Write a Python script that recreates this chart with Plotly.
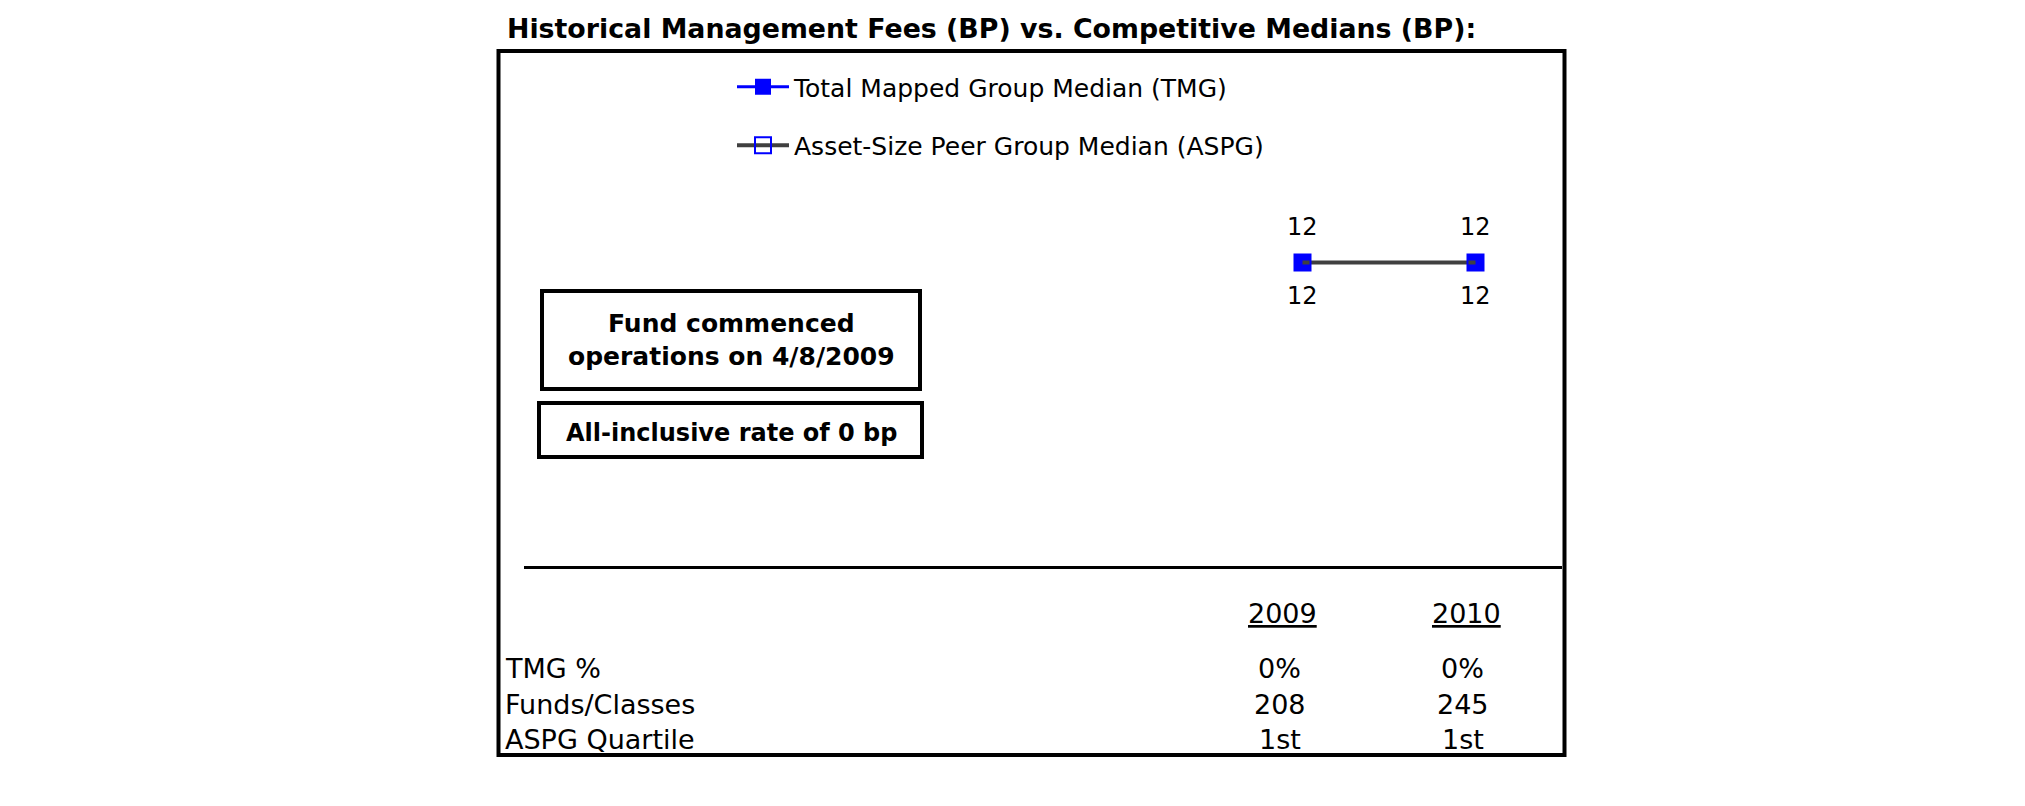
import plotly.graph_objects as go

# ---- data ----
years = [2009, 2010]
tmg_median = [12, 12]
aspg_median = [12, 12]
series_names = ["Total Mapped Group Median (TMG)", "Asset-Size Peer Group Median (ASPG)"]
row_labels = ["TMG %", "Funds/Classes", "ASPG Quartile"]
tmg_pct = ["0%", "0%"]
funds_classes = ["208", "245"]
aspg_quartile = ["1st", "1st"]
title_text = "Historical Management Fees (BP) vs. Competitive Medians (BP):"
note1 = "Fund commenced<br>operations on 4/8/2009"
note2 = "All-inclusive rate of 0 bp"

W, H = 2025, 806
OFF = 8  # page body margin
FONT = "DejaVu Sans"


def px(x):
    return (x - OFF) / W


def py(y):
    return 1 - (y - OFF) / H


fig = go.Figure()
fig.add_trace(go.Scatter(
    x=years, y=tmg_median, name=series_names[0], legendgroup="a",
    mode="lines+markers",
    line=dict(color="#0000FF", width=3),
    marker=dict(symbol="square", size=16, color="#0000FF"),
    cliponaxis=False,
))
fig.add_trace(go.Scatter(
    x=years, y=aspg_median, name=series_names[1], legendgroup="b",
    mode="lines+markers",
    line=dict(color="#404040", width=4),
    marker=dict(symbol="square-open", size=16, color="#0000FF", line=dict(width=2, color="#0000FF")),
    cliponaxis=False,
))

shapes = [
    dict(type="rect", xref="paper", yref="paper",
         x0=px(498.5), x1=px(1564.5), y0=py(755), y1=py(51),
         line=dict(color="black", width=4), fillcolor="rgba(0,0,0,0)"),
    dict(type="rect", xref="paper", yref="paper",
         x0=px(542), x1=px(920), y0=py(389), y1=py(291),
         line=dict(color="black", width=4), fillcolor="white"),
    dict(type="rect", xref="paper", yref="paper",
         x0=px(539), x1=px(922), y0=py(457), y1=py(403),
         line=dict(color="black", width=4), fillcolor="white"),
]

annotations = [
    dict(text="<b>" + title_text + "</b>", xref="paper", yref="paper",
         x=px(505), y=py(28), xanchor="left", yanchor="middle", showarrow=False,
         font=dict(family=FONT, size=26.8, color="black")),
    dict(text="<b>" + note1 + "</b>", xref="paper", yref="paper",
         x=px(731), y=py(340), xanchor="center", yanchor="middle", showarrow=False,
         font=dict(family=FONT, size=25, color="black")),
    dict(text="<b>" + note2 + "</b>", xref="paper", yref="paper",
         x=px(731), y=py(433), xanchor="center", yanchor="middle", showarrow=False,
         font=dict(family=FONT, size=24, color="black")),
]

# value labels attached to the data points
for yr, v in zip(years, tmg_median):
    annotations.append(dict(text=str(v), xref="x", yref="y", x=yr, y=v, yshift=35,
                            xanchor="center", yanchor="middle", showarrow=False,
                            font=dict(family=FONT, size=24, color="black")))
for yr, v in zip(years, aspg_median):
    annotations.append(dict(text=str(v), xref="x", yref="y", x=yr, y=v, yshift=-34,
                            xanchor="center", yanchor="middle", showarrow=False,
                            font=dict(family=FONT, size=24, color="black")))

row_y = [668, 704, 739]
TS = 27
for lbl, yy in zip(row_labels, row_y):
    annotations.append(dict(text=lbl, xref="paper", yref="paper", x=px(503), y=py(yy),
                            xanchor="left", yanchor="middle", showarrow=False,
                            font=dict(family=FONT, size=TS, color="black")))

table_rows = [tmg_pct, funds_classes, aspg_quartile]
header_shift = [-20, -9]
value_shift = [-23, -13]
for i, yr in enumerate(years):
    annotations.append(dict(text="<u>" + str(yr) + "</u>", xref="x", yref="paper", x=yr, y=py(613),
                            xshift=header_shift[i], xanchor="center", yanchor="middle", showarrow=False,
                            font=dict(family=FONT, size=TS, color="black")))
    for vals, yy in zip(table_rows, row_y):
        annotations.append(dict(text=vals[i], xref="x", yref="paper", x=yr, y=py(yy),
                                xshift=value_shift[i], xanchor="center", yanchor="middle", showarrow=False,
                                font=dict(family=FONT, size=TS, color="black")))

fig.update_layout(
    width=W, height=H,
    margin=dict(l=0, r=0, t=0, b=0),
    paper_bgcolor="white", plot_bgcolor="white",
    xaxis=dict(domain=[px(524), px(1562)], range=[2004.5, 2010.5],
               showline=True, linecolor="black", linewidth=3,
               showticklabels=False, ticks="", showgrid=False, zeroline=False),
    yaxis=dict(domain=[py(566), py(60)], range=[0, 20], visible=False),
    showlegend=True,
    legend=dict(x=px(732), y=py(64), xanchor="left", yanchor="top",
                traceorder="grouped", tracegroupgap=23,
                itemwidth=52,
                font=dict(family=FONT, size=25, color="black"),
                bgcolor="rgba(0,0,0,0)", borderwidth=0),
    shapes=shapes,
    annotations=annotations,
)

fig.write_html("out.html")
